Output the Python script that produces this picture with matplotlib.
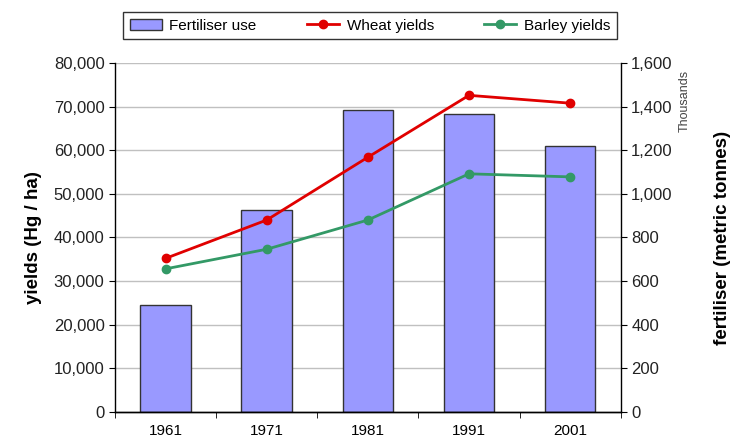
import matplotlib
matplotlib.use("Agg")
import matplotlib.pyplot as plt
from matplotlib.ticker import FuncFormatter, FixedLocator

plt.rcParams['font.family'] = ['Liberation Sans', 'DejaVu Sans']

years = ['1961', '1971', '1981', '1991', '2001']
fertiliser = [490, 925, 1383, 1365, 1221]          # thousands of metric tonnes
wheat = [35200, 44000, 58400, 72600, 70800]        # Hg/ha
barley = [32800, 37300, 44000, 54600, 53900]       # Hg/ha

fig = plt.figure(figsize=(7.32, 4.41), dpi=100)
ax = fig.add_axes([0.157, 0.066, 0.691, 0.791])
ax2 = ax.twinx()

x = list(range(len(years)))

# bars on the secondary (right) axis
ax.set_zorder(ax2.get_zorder() + 1)
ax.patch.set_visible(False)
bars = ax2.bar(x, fertiliser, width=0.5, color='#9999ff', edgecolor='#333333',
               linewidth=1.0, label='Fertiliser use', zorder=2)
ax2.set_ylim(0, 1600)
ax2.set_yticks(range(0, 1601, 200))
ax2.yaxis.set_major_formatter(FuncFormatter(lambda v, p: f"{int(v):,}"))

l1, = ax.plot(x, wheat, color='#e00000', marker='o', markersize=6, linewidth=2,
              label='Wheat yields')
l2, = ax.plot(x, barley, color='#339966', marker='o', markersize=6, linewidth=2,
              label='Barley yields')
ax.set_ylim(0, 80000)
ax.set_yticks(range(0, 80001, 10000))
ax.yaxis.set_major_formatter(FuncFormatter(lambda v, p: f"{int(v):,}"))
ax.set_xlim(-0.5, len(years) - 0.5)

# gridlines drawn on the bar axis (behind bars)
for v in range(10000, 80001, 10000):
    ax2.axhline(v / 50, color='#c0c0c0', linewidth=1, zorder=0)

# x ticks: labels at category centres, tick marks at boundaries
ax.set_xticks(x)
ax.set_xticklabels(years, fontsize=11)
ax.tick_params(axis='x', length=0, pad=9)
ax.xaxis.set_minor_locator(FixedLocator([i + 0.5 for i in range(-1, len(years))]))
ax.tick_params(axis='x', which='minor', length=4, direction='out', color='black')

ax.tick_params(axis='y', labelsize=12, length=4, direction='out', colors='black', labelcolor='#222222')
ax2.tick_params(axis='y', labelsize=12, length=4, direction='out', colors='black', labelcolor='#222222')

for a in (ax, ax2):
    a.spines['top'].set_visible(False)
    for s in ('left', 'right', 'bottom'):
        a.spines[s].set_color('black')
        a.spines[s].set_linewidth(1.0)
ax2.spines['left'].set_visible(False)
ax.spines['right'].set_visible(False)

ax.set_ylabel('yields (Hg / ha)', fontsize=13.5, fontweight='bold')
ax.yaxis.set_label_coords(-0.144, 0.5)
ax2.set_ylabel('fertiliser (metric tonnes)', fontsize=13.5, fontweight='bold')
ax2.yaxis.set_label_coords(1.184, 0.5)
fig.text(0.936, 0.771, 'Thousands', rotation=90, fontsize=9, color='#444444',
         ha='center', va='center')

handles = [bars, l1, l2]
labels = ['Fertiliser use', 'Wheat yields', 'Barley yields']
leg = fig.legend(handles, labels, loc='center', bbox_to_anchor=(0.5055, 0.942),
                 ncol=3, frameon=True, fancybox=False, edgecolor='black',
                 fontsize=11, handlelength=2.1, columnspacing=3.3,
                 borderpad=0.4, handletextpad=0.5)
leg.get_frame().set_linewidth(1.0)

fig.savefig('out.png', dpi=100)
